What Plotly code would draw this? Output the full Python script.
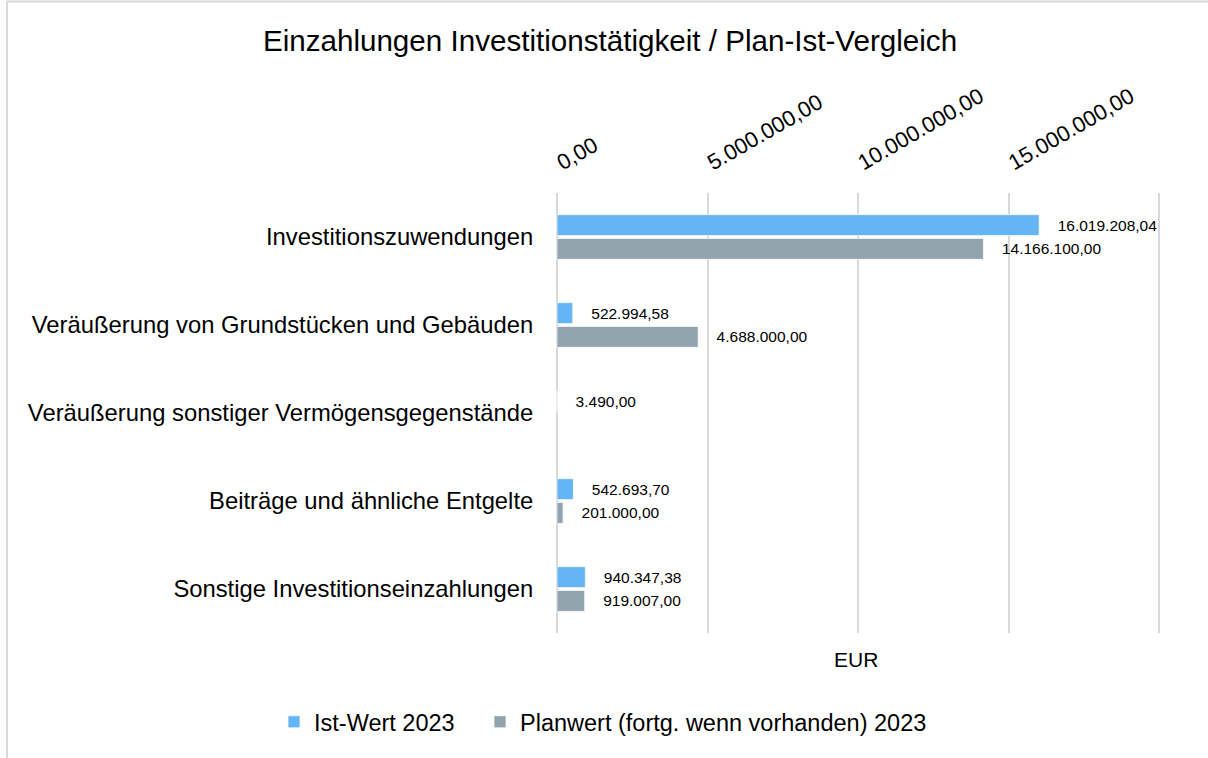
import plotly.graph_objects as go

categories = [
    "Investitionszuwendungen",
    "Veräußerung von Grundstücken und Gebäuden",
    "Veräußerung sonstiger Vermögensgegenstände",
    "Beiträge und ähnliche Entgelte",
    "Sonstige Investitionseinzahlungen",
]
ist_2023 = [16019208.04, 522994.58, 3490.00, 542693.70, 940347.38]
plan_2023 = [14166100.00, 4688000.00, None, 201000.00, 919007.00]
tick_vals = [0, 5000000, 10000000, 15000000, 20000000]
tick_text = ["0,00", "5.000.000,00", "10.000.000,00", "15.000.000,00", "20.000.000,00"]
series_names = ["Ist-Wert 2023", "Planwert (fortg. wenn vorhanden) 2023"]


def de_fmt(v):
    if v is None:
        return ""
    s = f"{v:,.2f}"
    return s.replace(",", "X").replace(".", ",").replace("X", ".")


FONT = "Liberation Sans, Arial, sans-serif"
W, H = 1208, 758
X0_PX, X20_PX = 557, 1159          # pixel of 0 and 20M
PAD = 100000                       # small range pad so edge gridlines are drawn
scale = (X20_PX - X0_PX) / 20000000
L = X0_PX - PAD * scale
R = X20_PX + PAD * scale
T, B = 193, 633


def px_x(p):
    return (p - L) / (R - L)


def px_y(p):
    return (B - p) / (B - T)


fig = go.Figure()
fig.add_trace(go.Bar(
    y=categories, x=ist_2023, orientation="h", name=series_names[0], legend="legend",
    showlegend=True,
    marker=dict(color="#63B5F5", line=dict(color="rgba(255,255,255,0.7)", width=1)),
    text=["\u2003" + de_fmt(v) for v in ist_2023], textposition="outside",
    textfont=dict(size=15.5, color="#000", family=FONT), cliponaxis=False,
))
fig.add_trace(go.Bar(
    y=categories, x=plan_2023, orientation="h", name=series_names[1], legend="legend2",
    showlegend=True,
    marker=dict(color="#91A4AD", line=dict(color="rgba(255,255,255,0.7)", width=1)),
    text=["\u2003" + de_fmt(v) if v is not None else "" for v in plan_2023], textposition="outside",
    textfont=dict(size=15.5, color="#000", family=FONT), cliponaxis=False,
))

legend_common = dict(orientation="h", xref="paper", xanchor="left",
                     yref="paper", y=px_y(722), yanchor="middle",
                     font=dict(size=23.5, family=FONT, color="#000"),
                     itemwidth=30, bgcolor="rgba(0,0,0,0)", visible=True)

fig.update_layout(
    width=W, height=H, showlegend=True,
    margin=dict(l=L, r=W - R, t=T, b=H - B, autoexpand=False),
    paper_bgcolor="white", plot_bgcolor="white",
    font=dict(family=FONT, color="#000"),
    barmode="group", bargap=0.46, bargroupgap=0.12,
    title=dict(text="Einzahlungen Investitionstätigkeit / Plan-Ist-Vergleich",
               x=610 / W, xref="container", xanchor="center",
               y=1 - 41 / H, yref="container", yanchor="middle",
               font=dict(size=29.6, family=FONT, color="#000")),
    xaxis=dict(side="top", range=[-PAD, 20000000 + PAD], tickvals=tick_vals, ticktext=tick_text,
               tickangle=-30, tickfont=dict(size=22, family=FONT, color="#000"),
               showgrid=True, gridcolor="#D9D9D9", gridwidth=2, zeroline=False,
               showline=False, ticks="outside", ticklen=11, tickcolor="rgba(0,0,0,0)"),
    yaxis=dict(autorange="reversed", tickfont=dict(size=23.8, family=FONT, color="#000"),
               showgrid=False, zeroline=False, showline=False,
               ticks="outside", ticklen=15, tickcolor="rgba(0,0,0,0)"),
    legend=dict(x=px_x(274), **legend_common),
    legend2=dict(x=px_x(480), **legend_common),
    annotations=[dict(text="EUR", x=px_x(856), xref="paper", y=px_y(659), yref="paper",
                      showarrow=False, font=dict(size=21, family=FONT, color="#000"),
                      xanchor="center", yanchor="middle")],
    shapes=[dict(type="rect", xref="paper", yref="paper",
                 x0=px_x(7), x1=px_x(1300),
                 y0=px_y(900), y1=px_y(1.5),
                 line=dict(color="#D9D9D9", width=2), fillcolor="rgba(0,0,0,0)", layer="below")],
)

fig.write_html("out.html", config={"displayModeBar": False},
               post_script="document.body.style.margin='0';document.body.style.overflow='hidden';")
